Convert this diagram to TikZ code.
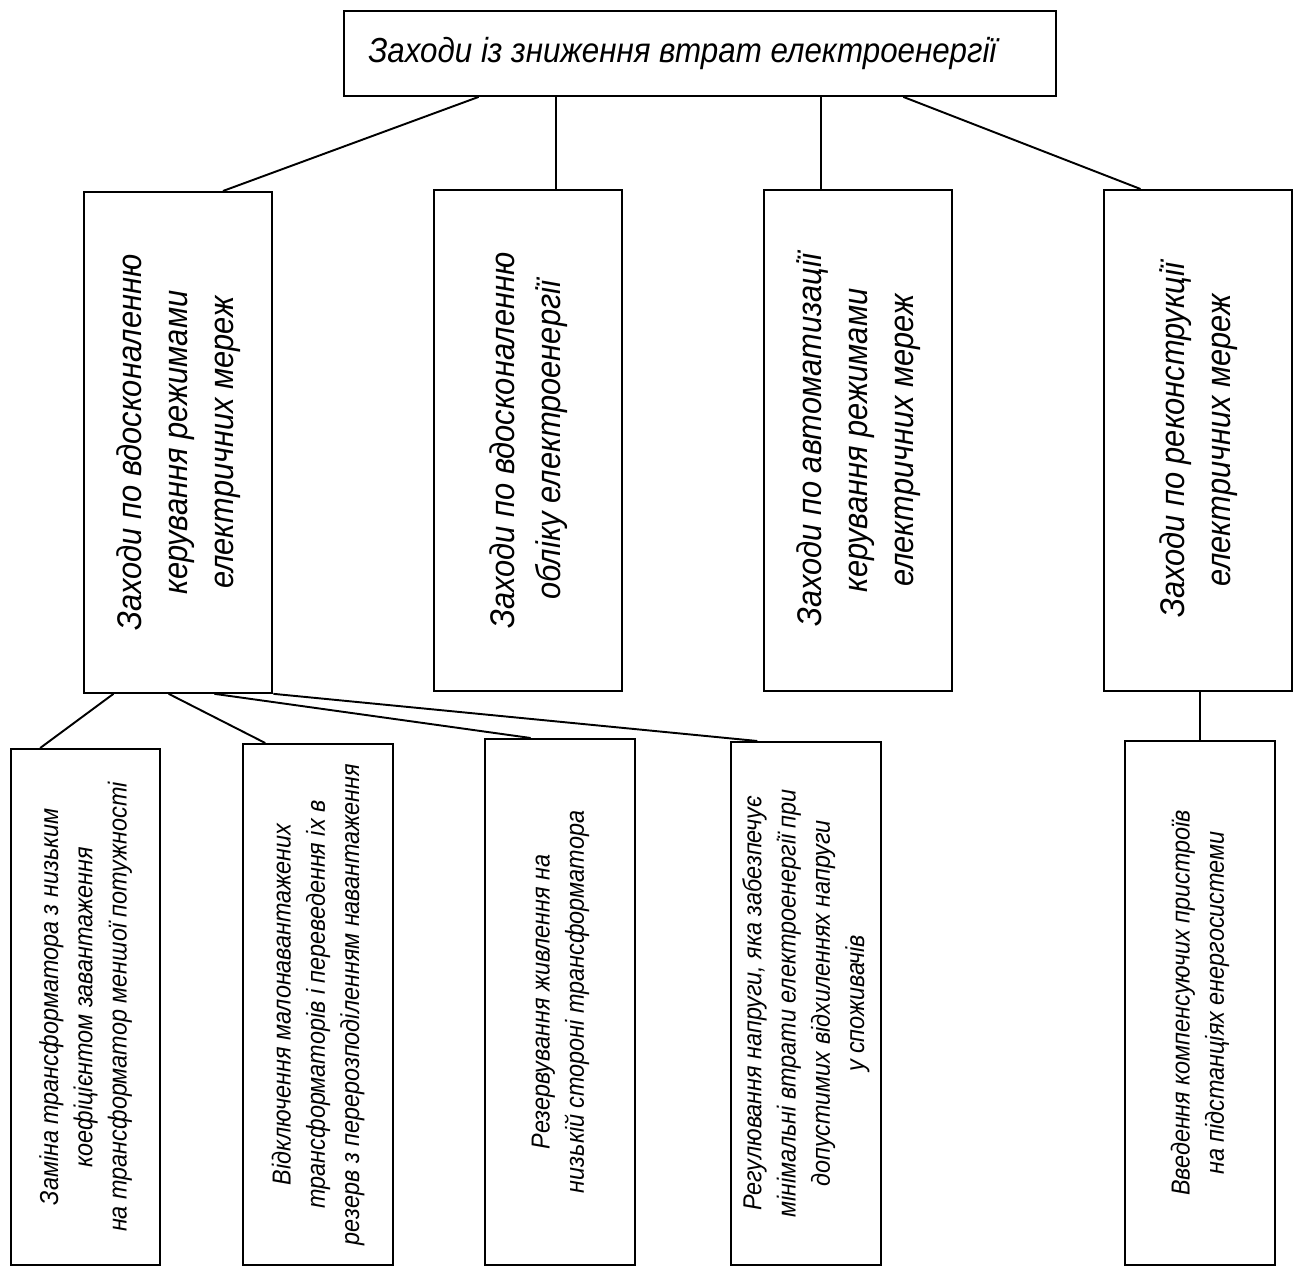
\documentclass[tikz,border=0pt]{standalone}
\usepackage{fontspec}
\setmainfont{Liberation Sans}[FakeStretch=0.9]
\usepackage{graphicx}
\usetikzlibrary{calc}

\newcommand{\vtext}[1]{\rotatebox{90}{\begin{tabular}{@{}c@{}}#1\end{tabular}}}

\begin{document}
\begin{tikzpicture}[x=0.02cm, y=-0.02cm, line width=1.1pt,
  box/.style={draw, rectangle, inner sep=0pt, anchor=north west},
  midbox/.style={box, minimum width=3.77cm, minimum height=10.02cm,
    font=\itshape\fontsize{19.5}{26}\selectfont},
  lowbox/.style={box, minimum width=3cm,
    font=\itshape\fontsize{14.8}{19.5}\selectfont}]

\useasboundingbox (0,0) rectangle (1297,1267);

\node[box, minimum width=14.24cm, minimum height=1.7cm,
  font=\itshape\fontsize{19.8}{25}\selectfont] (top) at (343,10)
  {Заходи із зниження втрат електроенергії\hspace*{0.7cm}};

\node[midbox] (b1) at (83,191)
  {\vtext{Заходи по вдосконаленню\\керування режимами\\електричних мереж}};
\node[midbox] (b2) at (433,189)
  {\vtext{Заходи по вдосконаленню\\обліку електроенергії}};
\node[midbox] (b3) at (763,189)
  {\vtext{Заходи по автоматизації\\керування режимами\\електричних мереж}};
\node[midbox] (b4) at (1103,189)
  {\vtext{Заходи по реконструкції\\електричних мереж}};

\node[lowbox, minimum width=2.98cm, minimum height=10.32cm] (c1) at (10,748)
  {\vtext{Заміна трансформатора з низьким\\коефіцієнтом завантаження\\на трансформатор меншої потужності}};
\node[lowbox, minimum height=10.42cm] (c2) at (242,743)
  {\vtext{Відключення малонавантажених\\трансформаторів і переведення іх в\\резерв з перерозподіленням навантаження}};
\node[lowbox, minimum height=10.52cm] (c3) at (484,738)
  {\vtext{Резервування живлення на\\низькій стороні трансформатора}};
\node[lowbox, minimum height=10.46cm] (c4) at (730,741)
  {\vtext{Регулювання напруги, яка забезпечує\\мінімальні втрати електроенергії при\\допустимих відхиленнях напруги\\у споживачів}};
\node[lowbox, minimum height=10.48cm] (d1) at (1124,740)
  {\vtext{Введення компенсуючих пристроїв\\на підстанціях енергосистеми}};

% top level
\draw ($(top.south west)!0.19!(top.south east)$) -- ($(b1.north west)!0.735!(b1.north east)$);
\coordinate (b2in) at ($(b2.north west)!0.644!(b2.north east)$);
\draw (top.south -| b2in) -- (b2in);
\coordinate (b3in) at ($(b3.north west)!0.303!(b3.north east)$);
\draw (top.south -| b3in) -- (b3in);
\draw ($(top.south west)!0.785!(top.south east)$) -- ($(b4.north west)!0.197!(b4.north east)$);

% under b1
\draw ($(b1.south west)!0.16!(b1.south east)$) -- ($(c1.north west)!0.2!(c1.north east)$);
\draw ($(b1.south west)!0.45!(b1.south east)$) -- ($(c2.north west)!0.153!(c2.north east)$);
\draw ($(b1.south west)!0.69!(b1.south east)$) -- ($(c3.north west)!0.307!(c3.north east)$);
\draw (b1.south east) -- ($(c4.north west)!0.18!(c4.north east)$);

% under b4
\draw (b4.south -| d1.north) -- (d1.north);

\end{tikzpicture}
\end{document}
